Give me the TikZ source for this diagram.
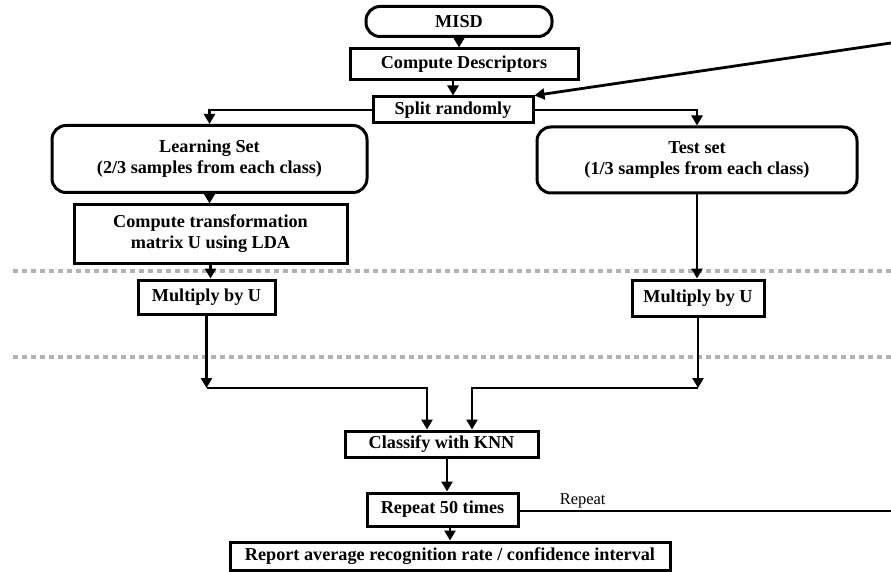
\documentclass[tikz,border=0pt]{standalone}
\usepackage{fontspec}
\setmainfont{Liberation Serif}
\usetikzlibrary{arrows.meta}
\begin{document}
\begin{tikzpicture}[x=1pt,y=-1pt,
  box/.style={draw,line width=3pt,fill=white,inner sep=0pt,align=center,
    font=\bfseries\fontsize{18.2}{21}\selectfont},
  rbox/.style={box,rounded corners=14pt},
  conn/.style={line width=2.8pt},
  arr/.style={conn,-{Triangle[length=10pt,width=11pt]}},
  dotline/.style={line width=4pt,color=black!30,dash pattern=on 4.5pt off 4.5pt}]
\useasboundingbox (0,0) rectangle (891,572);
\fill[white] (0,0) rectangle (891,572);
% dotted separators
\draw[dotline] (13,271) -- (891,271);
\draw[dotline] (13,357) -- (891,357);
% nodes
\node[rbox,minimum width=186pt,minimum height=30pt] (misd) at (459,21.5) {MISD};
\node[box,minimum width=228pt,minimum height=31pt] (cd) at (464,64.5) {Compute Descriptors};
\node[box,minimum width=160pt,minimum height=26pt] (split) at (453,110) {Split randomly};
\node[rbox,minimum width=315pt,minimum height=67pt] (learn) at (209.5,159) {Learning Set\\(2/3 samples from each class)};
\node[rbox,minimum width=320pt,minimum height=66pt] (test) at (697,160) {Test set\\(1/3 samples from each class)};
\node[box,minimum width=273pt,minimum height=58pt] (ct) at (210.5,234) {Compute transformation\\matrix U using LDA};
\node[box,minimum width=137pt,minimum height=34pt] (mu1) at (206.5,297) {Multiply by U};
\node[box,minimum width=132pt,minimum height=36pt] (mu2) at (698,298) {Multiply by U};
\node[box,minimum width=193pt,minimum height=26pt] (knn) at (441.5,444) {Classify with KNN};
\node[box,minimum width=151pt,minimum height=33pt] (rep) at (442.5,509.5) {Repeat 50 times};
\node[box,minimum width=440pt,minimum height=28pt] (report) at (450,556) {Report average recognition rate / confidence interval};
% junctions and free ends
\coordinate (j1) at (210,388);
\coordinate (j2) at (698,388);
\coordinate (rend) at (891,511);
\coordinate (rtop) at (891,43);
% connectors
\draw[arr] (misd.south) -- (misd.south |- cd.north);
\draw[arr] (split.north |- cd.south) -- (split.north);
\draw[arr] (split.west) -| (learn.north);
\draw[arr] (split.east) -| (test.north);
\draw[arr] (learn.south) -- (learn.south |- ct.north);
\draw[arr] (ct.south) -- (ct.south |- mu1.north);
\draw[arr] (test.south) -- (test.south |- mu2.north);
\draw[arr] (mu1.south) -- (mu1.south |- j1);
\draw[arr] (mu2.south) -- (mu2.south |- j2);
\draw[arr] (mu1.south |- j1) -| ([xshift=-14.5pt]knn.north);
\draw[arr] (mu2.south |- j2) -| ([xshift=30.5pt]knn.north);
\draw[arr] ([xshift=5.5pt]knn.south) -- ([xshift=5.5pt]knn.south |- rep.north);
\draw[arr] ([xshift=7.5pt]rep.south) -- ([xshift=7.5pt]rep.south |- report.north);
\draw[line width=2pt] (rep.east |- rend) -- (rend)
  node[pos=0.17,above=-1pt,font=\fontsize{16.5}{18}\selectfont] {Repeat};
\draw[arr] (rtop) -- (split.north east);
\end{tikzpicture}
\end{document}
